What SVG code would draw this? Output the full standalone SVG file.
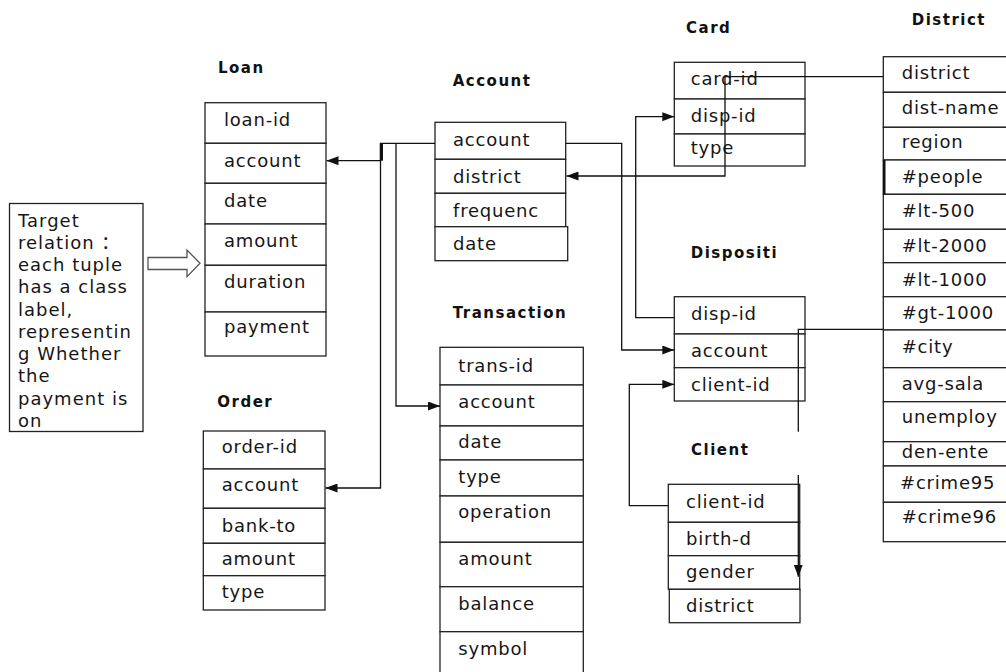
<svg xmlns="http://www.w3.org/2000/svg" width="1006" height="672" viewBox="0 0 1006 672">
  <style>
    .row { fill: #ffffff; stroke: #222222; stroke-width: 1.3; }
    .f { font-family: "DejaVu Sans", Verdana, sans-serif; font-size: 18px; letter-spacing: 0.8px; fill: #161616; }
    .t { font-family: "DejaVu Sans", Verdana, sans-serif; font-size: 15px; font-weight: bold; letter-spacing: 1.5px; fill: #111111; }
    .note { font-family: "DejaVu Sans", Verdana, "Noto Sans CJK SC", sans-serif; font-size: 18px; letter-spacing: 1px; fill: #161616; }
    .link { fill: none; stroke: #111111; stroke-width: 1.3; }
  </style>
  <defs>
    <marker id="arrow" markerUnits="userSpaceOnUse" markerWidth="12" markerHeight="9" refX="12" refY="4.5" orient="auto">
      <path d="M0,0 L12,4.5 L0,9 z" fill="#111111"/>
    </marker>
  </defs>

  <rect x="0" y="0" width="1006" height="672" fill="#ffffff"/>

  <!-- Target relation note with hollow arrow -->
  <g id="target">
    <rect class="row" x="9.5" y="203.5" width="133.5" height="228"/>
    <text class="note" x="18" y="226.5">Target</text>
    <text class="note" x="18" y="248.8">relation ：</text>
    <text class="note" x="18" y="271">each tuple</text>
    <text class="note" x="18" y="293.3">has a class</text>
    <text class="note" x="18" y="315.5">label,</text>
    <text class="note" x="18" y="337.8">representin</text>
    <text class="note" x="18" y="360">g Whether</text>
    <text class="note" x="18" y="382.3">the</text>
    <text class="note" x="18" y="404.5">payment is</text>
    <text class="note" x="18" y="426.8">on</text>
    <path d="M148,257.5 H187 V250 L200,263.3 L187,276.7 V269.5 H148 z" fill="#ffffff" stroke="#555555" stroke-width="1.3"/>
  </g>

  <!-- Loan -->
  <g id="loan">
    <text class="t" x="218" y="72.7">Loan</text>
    <rect class="row" x="205" y="102.7" width="121" height="40.6"/>
    <rect class="row" x="205" y="143.3" width="121" height="40"/>
    <rect class="row" x="205" y="183.3" width="121" height="40.7"/>
    <rect class="row" x="205" y="224" width="121" height="41.3"/>
    <rect class="row" x="205" y="265.3" width="121" height="46.7"/>
    <rect class="row" x="205" y="312" width="121" height="44"/>
    <text class="f" x="224" y="125.7">loan-id</text>
    <text class="f" x="224" y="166.7">account</text>
    <text class="f" x="224" y="206.7">date</text>
    <text class="f" x="224" y="247.3">amount</text>
    <text class="f" x="224" y="288.3">duration</text>
    <text class="f" x="224" y="333.3">payment</text>
  </g>

  <!-- Account -->
  <g id="account">
    <text class="t" x="452.7" y="86">Account</text>
    <rect class="row" x="435" y="122.3" width="130.7" height="37"/>
    <rect class="row" x="435" y="159.3" width="130.7" height="34"/>
    <rect class="row" x="435" y="193.3" width="130.7" height="33.4"/>
    <rect class="row" x="435" y="226.7" width="132.7" height="34"/>
    <text class="f" x="453" y="146">account</text>
    <text class="f" x="453" y="182.7">district</text>
    <text class="f" x="453" y="216.7">frequenc</text>
    <text class="f" x="453" y="250">date</text>
  </g>

  <!-- Card -->
  <g id="card">
    <text class="t" x="686" y="32.7">Card</text>
    <rect class="row" x="674.3" y="62.3" width="130.7" height="36.7"/>
    <rect class="row" x="674.3" y="99" width="130.7" height="35"/>
    <rect class="row" x="674.3" y="134" width="130.7" height="32"/>
    <text class="f" x="690.7" y="85">card-id</text>
    <text class="f" x="690.7" y="121.7">disp-id</text>
    <text class="f" x="690.7" y="154">type</text>
  </g>

  <!-- District -->
  <g id="district">
    <text class="t" x="911.7" y="25">District</text>
    <rect class="row" x="883.3" y="56.7" width="140" height="35.6"/>
    <rect class="row" x="883.3" y="92.3" width="140" height="35"/>
    <rect class="row" x="883.3" y="127.3" width="140" height="32.7"/>
    <rect class="row" x="883.3" y="160" width="140" height="34.3"/>
    <rect class="row" x="883.3" y="194.3" width="140" height="35"/>
    <rect class="row" x="883.3" y="229.3" width="140" height="33.4"/>
    <rect class="row" x="883.3" y="262.7" width="140" height="34"/>
    <rect class="row" x="883.3" y="296.7" width="140" height="33.3"/>
    <rect class="row" x="883.3" y="330" width="140" height="37.7"/>
    <rect class="row" x="883.3" y="367.7" width="140" height="34"/>
    <rect class="row" x="883.3" y="401.7" width="140" height="40"/>
    <rect class="row" x="883.3" y="441.7" width="140" height="24.3"/>
    <rect class="row" x="883.3" y="466" width="140" height="36.3"/>
    <rect class="row" x="883.3" y="502.3" width="140" height="39.4"/>
    <line x1="884.2" y1="160" x2="884.2" y2="194.3" stroke="#111111" stroke-width="2.6"/>
    <text class="f" x="901.7" y="79">district</text>
    <text class="f" x="901.7" y="114.3">dist-name</text>
    <text class="f" x="901.7" y="148.3">region</text>
    <text class="f" x="901.7" y="183.3">#people</text>
    <text class="f" x="901.7" y="216.7">#lt-500</text>
    <text class="f" x="901.7" y="252.3">#lt-2000</text>
    <text class="f" x="901.7" y="286">#lt-1000</text>
    <text class="f" x="901.7" y="319.3">#gt-1000</text>
    <text class="f" x="901.7" y="353.3">#city</text>
    <text class="f" x="901.7" y="390">avg-sala</text>
    <text class="f" x="901.7" y="423.3">unemploy</text>
    <text class="f" x="901.7" y="458.3">den-ente</text>
    <text class="f" x="900" y="489.3">#crime95</text>
    <text class="f" x="901.7" y="523.3">#crime96</text>
  </g>

  <!-- Dispositi -->
  <g id="dispositi">
    <text class="t" x="690.7" y="257.7">Dispositi</text>
    <rect class="row" x="674.3" y="296.7" width="130.7" height="37.3"/>
    <rect class="row" x="674.3" y="334" width="130.7" height="33.7"/>
    <rect class="row" x="674.3" y="367.7" width="130.7" height="33.3"/>
    <text class="f" x="691" y="320">disp-id</text>
    <text class="f" x="691" y="356.7">account</text>
    <text class="f" x="691" y="390.7">client-id</text>
  </g>

  <!-- Client -->
  <g id="client">
    <text class="t" x="691" y="455">Client</text>
    <rect class="row" x="668.3" y="484.3" width="131.4" height="38"/>
    <rect class="row" x="668.3" y="522.3" width="131.4" height="33.4"/>
    <rect class="row" x="668.3" y="555.7" width="131.4" height="33.6"/>
    <rect class="row" x="669.3" y="589.3" width="130.7" height="33.4"/>
    <text class="f" x="686" y="508.3">client-id</text>
    <text class="f" x="686" y="545">birth-d</text>
    <text class="f" x="686" y="578.3">gender</text>
    <text class="f" x="686" y="611.7">district</text>
  </g>

  <!-- Order -->
  <g id="order">
    <text class="t" x="217.3" y="407.3">Order</text>
    <rect class="row" x="203.3" y="431" width="121.7" height="38"/>
    <rect class="row" x="203.3" y="469" width="121.7" height="39.3"/>
    <rect class="row" x="203.3" y="508.3" width="121.7" height="35"/>
    <rect class="row" x="203.3" y="543.3" width="121.7" height="32.4"/>
    <rect class="row" x="203.3" y="575.7" width="121.7" height="34.3"/>
    <text class="f" x="221.7" y="453.3">order-id</text>
    <text class="f" x="221.7" y="491">account</text>
    <text class="f" x="221.7" y="531.7">bank-to</text>
    <text class="f" x="221.7" y="565">amount</text>
    <text class="f" x="221.7" y="598.3">type</text>
  </g>

  <!-- Transaction -->
  <g id="transaction">
    <text class="t" x="452.7" y="318.3">Transaction</text>
    <rect class="row" x="440" y="347.3" width="143.3" height="37.7"/>
    <rect class="row" x="440" y="385" width="143.3" height="41"/>
    <rect class="row" x="440" y="426" width="143.3" height="34"/>
    <rect class="row" x="440" y="460" width="143.3" height="36"/>
    <rect class="row" x="440" y="496" width="143.3" height="46.3"/>
    <rect class="row" x="440" y="542.3" width="143.3" height="44.4"/>
    <rect class="row" x="440" y="586.7" width="143.3" height="45"/>
    <rect class="row" x="440" y="631.7" width="143.3" height="60"/>
    <text class="f" x="458.3" y="371.7">trans-id</text>
    <text class="f" x="458.3" y="408.3">account</text>
    <text class="f" x="458.3" y="448.3">date</text>
    <text class="f" x="458.3" y="483.3">type</text>
    <text class="f" x="458.3" y="518.3">operation</text>
    <text class="f" x="458.3" y="565">amount</text>
    <text class="f" x="458.3" y="610">balance</text>
    <text class="f" x="458.3" y="655">symbol</text>
  </g>

  <!-- Foreign-key connectors -->
  <g id="connectors">
    <path class="link" d="M435,143.3 H380.5 V160.7 H326.5" marker-end="url(#arrow)"/>
    <line x1="381.8" y1="143.3" x2="381.8" y2="160.7" stroke="#111111" stroke-width="2.4"/>
    <path class="link" d="M380.5,143.3 V488 H325.5" marker-end="url(#arrow)"/>
    <path class="link" d="M396,143.3 V406 H440" marker-end="url(#arrow)"/>
    <path class="link" d="M565.7,143.3 H621.7 V350 H674.3" marker-end="url(#arrow)"/>
    <path class="link" d="M674.3,317.7 H635.7 V116.7 H674.3" marker-end="url(#arrow)"/>
    <path class="link" d="M883.3,76.7 H725 V176 H566.5" marker-end="url(#arrow)"/>
    <path class="link" d="M668.3,505.7 H629.3 V384.3 H674.3" marker-end="url(#arrow)"/>
    <path class="link" d="M883.3,329.3 H798.3 V431.7"/>
    <path class="link" d="M798.3,475 V576.7" marker-end="url(#arrow)"/>
  </g>
</svg>
